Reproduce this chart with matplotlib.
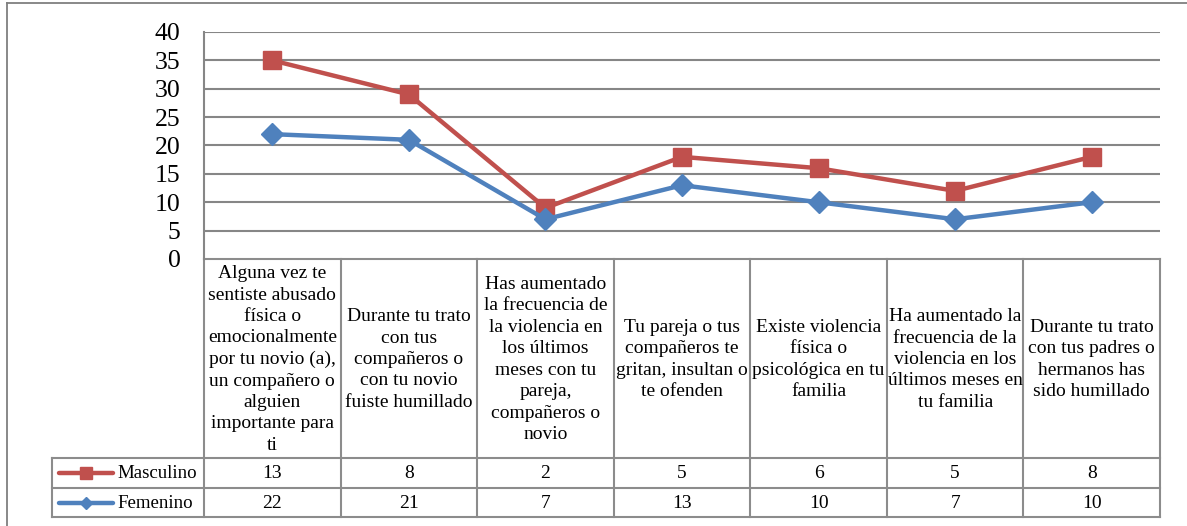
import matplotlib
matplotlib.use("Agg")
import matplotlib.pyplot as plt
import numpy as np

categories = [
    "Alguna vez te\nsentiste abusado\nfísica o\nemocionalmente\npor tu novio (a),\nun compañero o\nalguien\nimportante para\nti",
    "Durante tu trato\ncon tus\ncompañeros o\ncon tu novio\nfuiste humillado",
    "Has aumentado\nla frecuencia de\nla violencia en\nlos últimos\nmeses con tu\npareja,\ncompañeros o\nnovio",
    "Tu pareja o tus\ncompañeros te\ngritan, insultan o\nte ofenden",
    "Existe violencia\nfísica o\npsicológica en tu\nfamilia",
    "Ha aumentado la\nfrecuencia de la\nviolencia en los\núltimos meses en\ntu familia",
    "Durante tu trato\ncon tus padres o\nhermanos has\nsido humillado",
]
masculino = [13, 8, 2, 5, 6, 5, 8]
femenino = [22, 21, 7, 13, 10, 7, 10]
series_names = ["Masculino", "Femenino"]
yticks = [0, 5, 10, 15, 20, 25, 30, 35, 40]

RED = "#C0504D"
BLUE = "#4F81BD"
GRID = "#868686"
FONT = "Liberation Serif"

W, H = 1187, 526
fig = plt.figure(figsize=(W / 100, H / 100), dpi=100)

# layout in pixels
left, right, top, bottom = 204, 1160, 32, 259
legend_left = 52
row1_bot, row2_bot = 488, 517
hdr_bot = 458

ax = fig.add_axes([left / W, 1 - bottom / H, (right - left) / W, (bottom - top) / H])
n = len(categories)
x = np.arange(n)
fem = np.array(femenino)
mas = np.array(masculino)
stack = fem + mas

ax.plot(x, stack, color=RED, lw=3.2, marker="s", ms=13, mec=RED, mfc=RED, zorder=4,
        solid_joinstyle="round")
ax.plot(x, fem, color=BLUE, lw=3.2, marker="D", ms=11, mec=BLUE, mfc=BLUE, zorder=4,
        solid_joinstyle="round")
ax.set_xlim(-0.5, n - 0.5)
ax.set_ylim(0, 40)
ax.set_yticks(yticks)
ax.set_yticklabels([str(v) for v in yticks], fontfamily=FONT, fontsize=18.5)
ax.set_xticks([])
ax.tick_params(axis="y", length=0, pad=17)
for y in yticks[1:]:
    ax.axhline(y, color=GRID, lw=1.5, zorder=1)
for s in ["top", "right", "bottom"]:
    ax.spines[s].set_visible(False)
ax.spines["left"].set_color(GRID)
ax.spines["left"].set_linewidth(1.5)
ax.patch.set_alpha(0)

# overlay for table / frame in pixel coordinates
ov = fig.add_axes([0, 0, 1, 1], zorder=-1)
ov.set_xlim(0, W)
ov.set_ylim(H, 0)
ov.axis("off")

colw = (right - left) / n
lc = "#8C8C8C"
lw = 1.5
ov.plot([left, right], [bottom, bottom], color=lc, lw=lw)
ov.plot([legend_left, right], [hdr_bot, hdr_bot], color=lc, lw=lw)
ov.plot([legend_left, right], [row1_bot, row1_bot], color=lc, lw=lw)
ov.plot([legend_left, right], [row2_bot, row2_bot], color=lc, lw=lw)
for i in range(n + 1):
    xx = left + i * colw
    ov.plot([xx, xx], [bottom, row2_bot], color=lc, lw=lw)
ov.plot([legend_left, legend_left], [hdr_bot, row2_bot], color=lc, lw=lw)

TS = 14
for i, cat in enumerate(categories):
    ov.text(left + (i + 0.5) * colw, (bottom + hdr_bot) / 2 + 1, cat, ha="center", va="center",
            fontfamily=FONT, fontsize=TS, linespacing=1.34)

rows = [(masculino, RED, "s", 8, (hdr_bot + row1_bot) / 2),
        (femenino, BLUE, "D", 6.5, (row1_bot + row2_bot) / 2)]
for (vals, col, mk, ms, yc), name in zip(rows, series_names):
    for i, v in enumerate(vals):
        ov.text(left + (i + 0.5) * colw, yc + 1, str(v), ha="center", va="center",
                fontfamily=FONT, fontsize=TS)
    ov.plot([59, 113], [yc, yc], color=col, lw=3.2, solid_capstyle="round")
    ov.plot([86], [yc], marker=mk, ms=ms, color=col)
    ov.text(117, yc + 1, name, ha="left", va="center", fontfamily=FONT, fontsize=13.6)

ov.plot([7, W], [3, 3], color="#7F7F7F", lw=1.3)
ov.plot([7, 7], [3, H], color="#7F7F7F", lw=1.3)

fig.savefig("out.png", dpi=100)
